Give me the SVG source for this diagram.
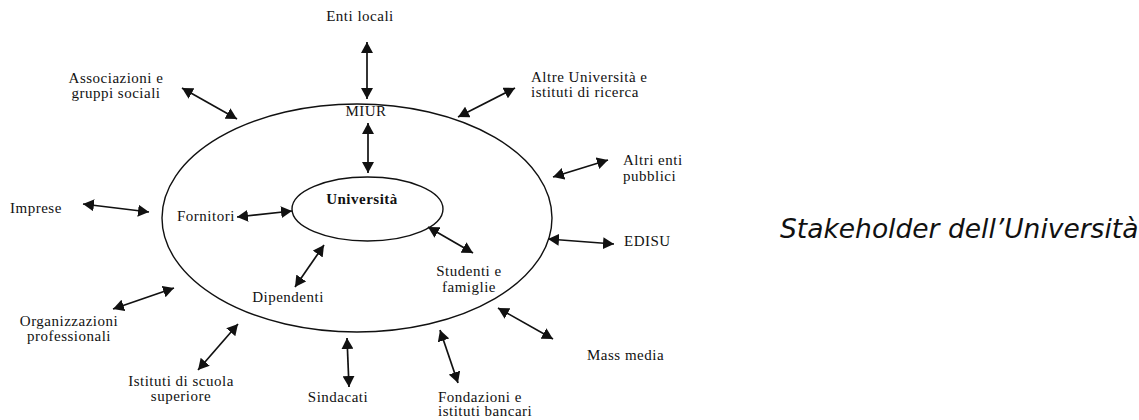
<svg xmlns="http://www.w3.org/2000/svg" width="1139" height="420" viewBox="0 0 1139 420">
<style>
.t{font-family:"Liberation Serif","Times New Roman",serif;font-size:15px;letter-spacing:0.5px;fill:#111}
.c{text-anchor:middle}
.b{font-weight:bold}
.ring{fill:none;stroke:#111;stroke-width:1.4}
.conn line{stroke:#111;stroke-width:1.7}
.cap{font-family:"DejaVu Sans",Verdana,sans-serif;font-style:italic;font-size:26.5px;fill:#111}
</style>
<defs>
<marker id="ah" viewBox="0 0 11 12" refX="11" refY="6" markerUnits="userSpaceOnUse" markerWidth="11" markerHeight="12" orient="auto-start-reverse">
<path d="M0,0 L11,6 L0,12 z" fill="#111"/>
</marker>
</defs>
<rect width="1139" height="420" fill="#fff"/>
<g id="outer-ring"><ellipse class="ring" cx="357" cy="218" rx="195" ry="114"/></g>
<g id="universita"><ellipse class="ring" cx="367.5" cy="209" rx="75.5" ry="32"/><text class="t c b" x="362" y="204">Università</text></g>
<g class="conn" id="connectors" marker-start="url(#ah)" marker-end="url(#ah)">
<line x1="367" y1="42" x2="367" y2="99"/>
<line x1="368" y1="123" x2="368" y2="173"/>
<line x1="182" y1="88" x2="237" y2="119"/>
<line x1="458" y1="117" x2="515" y2="88"/>
<line x1="553" y1="177" x2="608" y2="160"/>
<line x1="83" y1="204" x2="149" y2="212"/>
<line x1="237" y1="217" x2="292" y2="211"/>
<line x1="324" y1="245" x2="295" y2="287"/>
<line x1="428" y1="227" x2="473" y2="253"/>
<line x1="548" y1="239" x2="614" y2="244"/>
<line x1="113" y1="309" x2="174" y2="288"/>
<line x1="498" y1="308" x2="553" y2="339"/>
<line x1="198" y1="370" x2="238" y2="324"/>
<line x1="347" y1="338" x2="349" y2="387"/>
<line x1="440" y1="330" x2="458" y2="383"/>
</g>
<g id="enti-locali"><text class="t c" x="360" y="21">Enti locali</text></g>
<g id="miur"><text class="t c" x="366" y="116">MIUR</text></g>
<g id="associazioni"><text class="t c" x="116" y="83">Associazioni e</text><text class="t c" x="116" y="98">gruppi sociali</text></g>
<g id="altre-universita"><text class="t" x="531" y="82">Altre Università e</text><text class="t" x="531" y="97">istituti di ricerca</text></g>
<g id="altri-enti"><text class="t" x="623" y="165">Altri enti</text><text class="t" x="623" y="181">pubblici</text></g>
<g id="imprese"><text class="t" x="10" y="213">Imprese</text></g>
<g id="fornitori"><text class="t" x="177" y="221">Fornitori</text></g>
<g id="dipendenti"><text class="t c" x="288" y="302">Dipendenti</text></g>
<g id="studenti"><text class="t c" x="469" y="276">Studenti e</text><text class="t c" x="469" y="292">famiglie</text></g>
<g id="edisu"><text class="t" x="624" y="246">EDISU</text></g>
<g id="organizzazioni"><text class="t c" x="69" y="326">Organizzazioni</text><text class="t c" x="69" y="341">professionali</text></g>
<g id="istituti-scuola"><text class="t c" x="181" y="386">Istituti di scuola</text><text class="t c" x="181" y="401">superiore</text></g>
<g id="sindacati"><text class="t c" x="338" y="402">Sindacati</text></g>
<g id="fondazioni"><text class="t" x="438" y="402">Fondazioni e</text><text class="t" x="438" y="416">istituti bancari</text></g>
<g id="mass-media"><text class="t" x="587" y="360">Mass media</text></g>
<g id="caption"><text class="cap" x="780" y="238">Stakeholder dell’Università</text></g>
</svg>
